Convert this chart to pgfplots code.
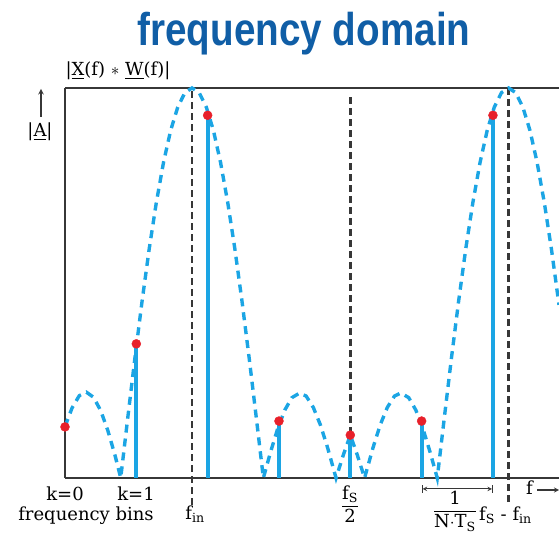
\documentclass[border=0pt]{standalone}
\usepackage{fontspec}
\setmainfont{DejaVu Serif}
\newfontfamily\titlefont{Liberation Sans}
\usepackage{amsmath}
\usepackage{graphicx}
\usepackage{pgfplots}
\pgfplotsset{compat=1.18}
\definecolor{cy}{RGB}{27,165,228}
\definecolor{titleblue}{RGB}{16,94,166}
\definecolor{dotred}{RGB}{232,32,42}
\definecolor{axgray}{RGB}{55,55,55}
\begin{document}
\begin{tikzpicture}
\useasboundingbox (0pt,0pt) rectangle (559pt,534pt);
\begin{axis}[at={(65pt,56pt)}, anchor=origin, scale only axis,
  width=494pt, height=390pt,
  xmin=0, xmax=6.926, ymin=0, ymax=1,
  axis x line*=bottom, axis y line*=left, ticks=none, clip=false,
  axis line style={-, line width=1.6pt, color=axgray}]
% top frame line
\draw[line width=1.6pt, axgray] (rel axis cs:0,1) -- (rel axis cs:1,1);
% vertical dashed reference lines
\addplot[axgray, line width=2.6pt, dash pattern=on 7pt off 4pt] coordinates {(1.781,-0.069) (1.781,1)};
\addplot[axgray, line width=2.6pt, dash pattern=on 7pt off 4pt] coordinates {(4,0) (4,0.982)};
\addplot[axgray, line width=2.6pt, dash pattern=on 7pt off 4pt] coordinates {(6.219,-0.062) (6.219,1)};
% spectrum envelope |X(f)*W(f)|
\addplot[cy, line width=3.4pt, dash pattern=on 8pt off 6pt] coordinates {
(0,0.132) (0.1,0.180) (0.2,0.211) (0.3,0.220) (0.4,0.207) (0.5,0.173) (0.6,0.122) (0.7,0.059) (0.781,0)
(0.881,0.156) (0.981,0.309) (1.081,0.454) (1.181,0.588) (1.281,0.707) (1.381,0.809) (1.481,0.891) (1.581,0.951) (1.681,0.988) (1.781,1)
(1.881,0.988) (1.981,0.951) (2.081,0.891) (2.181,0.809) (2.281,0.707) (2.381,0.588) (2.481,0.454) (2.581,0.309) (2.681,0.156) (2.781,0)
(2.881,0.066) (2.981,0.126) (3.081,0.174) (3.181,0.206) (3.291,0.218) (3.381,0.210) (3.481,0.181) (3.581,0.136) (3.681,0.078) (3.80,0)
(3.9,0.058) (4.0,0.110) (4.1,0.058) (4.2,0)
(4.319,0.078) (4.419,0.136) (4.519,0.181) (4.619,0.210) (4.709,0.218) (4.819,0.206) (4.919,0.174) (5.019,0.126) (5.119,0.066) (5.219,0)
(5.319,0.156) (5.419,0.309) (5.519,0.454) (5.619,0.588) (5.719,0.707) (5.819,0.809) (5.919,0.891) (6.019,0.951) (6.119,0.988) (6.219,1)
(6.319,0.988) (6.419,0.951) (6.519,0.891) (6.619,0.809) (6.719,0.707) (6.819,0.588) (6.926,0.444)};
% DFT bins
\addplot[ycomb, cy, line width=4pt] coordinates {(1,0.344) (2,0.930) (3,0.146) (4,0.110) (5,0.146) (6,0.930)};
\addplot[only marks, mark=*, mark size=4.5pt, color=dotred] coordinates {(0,0.131) (1,0.344) (2,0.930) (3,0.146) (4,0.110) (5,0.146) (6,0.930)};
% bin spacing bracket
\draw[line width=1pt, axgray, |<->|, >=stealth] (axis cs:5,-0.028) -- (axis cs:6,-0.028);
\end{axis}
% title
\node[text=titleblue] at (304pt,500pt) {\scalebox{0.84}[1]{\titlefont\bfseries\fontsize{46}{50}\selectfont frequency domain}};
% y label
\node[anchor=west, font=\fontsize{18}{20}\selectfont] at (62pt,463pt) {|\underline{X}(f) $\ast$ \underline{W}(f)|};
\draw[line width=1.4pt, axgray, -stealth] (41pt,417pt) -- (41pt,445pt);
\node[font=\fontsize{18}{20}\selectfont] at (40pt,402pt) {|\underline{A}|};
% x labels
\node[font=\fontsize{18}{20}\selectfont] at (65pt,40pt) {k=0};
\node[font=\fontsize{18}{20}\selectfont] at (136pt,40pt) {k=1};
\node[font=\fontsize{18}{20}\selectfont] at (86pt,18pt) {frequency bins};
\node[font=\fontsize{18}{20}\selectfont] at (195pt,20pt) {f\textsubscript{in}};
\node[font=\fontsize{18}{20}\selectfont] at (350pt,30pt) {$\dfrac{\text{f\textsubscript{S}}}{\text{2}}$};
\node[font=\fontsize{18}{20}\selectfont] at (455pt,23pt) {$\dfrac{\text{1}}{\text{N$\cdot$T\textsubscript{S}}}$};
\node[anchor=west, font=\fontsize{18}{20}\selectfont, inner xsep=0pt] at (479pt,19pt) {f\textsubscript{S} - f\textsubscript{in}};
\node[anchor=west, font=\fontsize{18}{20}\selectfont, inner xsep=0pt] at (526pt,46pt) {f};
\draw[line width=1.2pt, axgray, -stealth] (537pt,44pt) -- (559pt,44pt);
\end{tikzpicture}
\end{document}
